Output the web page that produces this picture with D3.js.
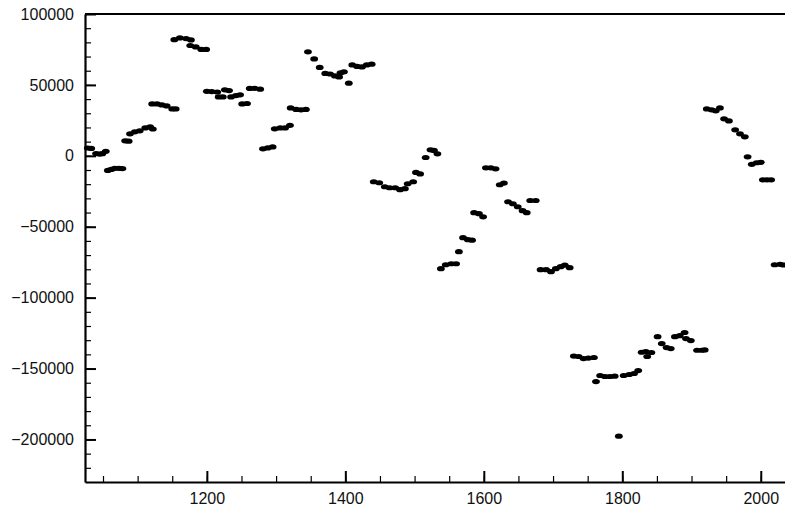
<!DOCTYPE html>
<html>
<head>
<meta charset="utf-8">
<script src="https://cdn.jsdelivr.net/npm/d3@7"></script>
<style>
  body { margin: 0; background: #fff; }
  svg { display: block; font-family: "Liberation Sans", Arial, sans-serif; }
</style>
</head>
<body>
<div class="chart"></div>
<script>
// values (year, value)
const years = [
  1028, 1033, 1040, 1045, 1049, 1054,
  1057, 1062, 1067, 1073, 1078,
  1082, 1087,
  1089, 1096, 1103, 1111, 1118, 1122,
  1121, 1128, 1135, 1142, 1150, 1155,
  1153, 1161, 1170, 1177,
  1176, 1184, 1192, 1199,
  1200, 1207, 1215, 1217, 1223, 1226, 1232,
  1235, 1242, 1248, 1251, 1258,
  1262, 1269, 1277,
  1281, 1288, 1295,
  1298, 1306, 1313, 1320,
  1321, 1329, 1336, 1343,
  1346, 1355, 1363,
  1371, 1378, 1385, 1391, 1393, 1398, 1405,
  1410, 1417, 1424, 1431, 1438,
  1441, 1449, 1457, 1464, 1472, 1479, 1486, 1490, 1498,
  1502, 1508, 1516, 1523, 1528, 1533,
  1538, 1545, 1553, 1560, 1564,
  1570, 1577, 1583, 1586, 1593, 1599,
  1603, 1610, 1617, 1623, 1629,
  1635, 1642, 1649, 1656, 1662, 1667, 1675,
  1682, 1690, 1697, 1704, 1711, 1717, 1724,
  1730, 1737, 1744, 1751, 1759,
  1762, 1768, 1775, 1782, 1789, 1795,
  1802, 1810, 1817, 1823,
  1828, 1834, 1836, 1842, 1851,
  1857, 1864, 1870, 1876, 1883, 1890, 1892, 1899,
  1908, 1915, 1919,
  1922, 1929, 1935, 1941, 1947, 1954,
  1963, 1970, 1977, 1981,
  1987, 1994, 2000, 2003, 2009, 2015,
  2020, 2028, 2033
];
const values = [
  5500, 5200, 1600, 1200, 1500, 3200,
  -10300, -9600, -8800, -8800, -9000,
  10600, 10300,
  15500, 16900, 17600, 19700, 20400, 18900,
  36600, 36600, 35900, 35200, 33100, 33100,
  81900, 83100, 82700, 81700,
  77800, 76800, 75000, 75000,
  45500, 45300, 45000, 41500, 41500, 46500, 46000,
  41500, 42500, 43000, 36600, 36900,
  47500, 47600, 47000,
  4900, 5600, 6300,
  19000, 19700, 19700, 21500,
  33800, 32700, 32400, 32700,
  73300, 68300, 62300,
  58100, 57700, 56300, 55600, 58500, 59200, 51200,
  64100, 63000, 62700, 64100, 64600,
  -18300, -19000, -21800, -22500, -22500, -23900, -23200, -19700, -18300,
  -11700, -12800, -1200, 4200, 3800, 1400,
  -79600, -76800, -76100, -76100, -67600,
  -57700, -59100, -59500, -40100, -40800, -43000,
  -8500, -8500, -9200, -20400, -19200,
  -32400, -33800, -35900, -38700, -40100, -31500, -31500,
  -80300, -80300, -81700, -79600, -78200, -77100, -78900,
  -141200, -141500, -143000, -142600, -142200,
  -159200, -154900, -155600, -155600, -155400, -197700,
  -154900, -154200, -153500, -151400,
  -138500, -138000, -141500, -138700, -127500,
  -132400, -135200, -135900, -127500, -126800, -124600, -128900, -130300,
  -137100, -137100, -136900,
  33100, 32400, 31700, 33800, 26100, 24600,
  18300, 15500, 13400, -700,
  -6000, -4900, -4600, -16900, -16900, -16900,
  -76800, -76500, -77000
];
const xTicks = [1200, 1400, 1600, 1800, 2000];
const yTicks = [100000, 50000, 0, -50000, -100000, -150000, -200000];

const W = 785, H = 512;
const margin = {top: 14, right: 0, bottom: 30, left: 85};

const svg = d3.select(".chart")
  .append("svg")
    .attr("width", W)
    .attr("height", H);

const x = d3.scaleLinear()
  .domain([1024, 2035])
  .range([margin.left, W - margin.right]);

const y = d3.scaleLinear()
  .domain([-230000, 100000])
  .range([H - margin.bottom, margin.top]);

// minor ticks first, majors drawn over them
svg.append("g")
  .attr("transform", "translate(0," + (H - margin.bottom) + ")")
  .call(d3.axisBottom(x).tickValues(d3.range(1050, 2035, 50)).tickSize(-6).tickFormat(""))
  .call(g => g.select(".domain").remove())
  .call(g => g.selectAll("line").attr("stroke-width", 1.2));

svg.append("g")
  .attr("transform", "translate(" + margin.left + ",0)")
  .call(d3.axisLeft(y).tickValues(d3.range(-220000, 100001, 10000)).tickSize(-6).tickFormat(""))
  .call(g => g.select(".domain").remove())
  .call(g => g.selectAll("line").attr("stroke-width", 1.2));

const xAxis = svg.append("g")
  .attr("transform", "translate(0," + (H - margin.bottom) + ")")
  .call(d3.axisBottom(x).tickValues(xTicks).tickSize(-11).tickSizeOuter(0).tickPadding(11).tickFormat(d3.format("d")));

const yAxis = svg.append("g")
  .attr("transform", "translate(" + margin.left + ",0)")
  .call(d3.axisLeft(y).tickValues(yTicks).tickSize(-11).tickSizeOuter(0).tickPadding(11).tickFormat(d3.format("d")));

[xAxis, yAxis].forEach(g => {
  g.select(".domain").attr("stroke-width", 2.2);
  g.selectAll(".tick line").attr("stroke-width", 2);
  g.selectAll("text").style("font-size", "16px").attr("fill", "#111");
});

// top frame line
svg.append("line")
  .attr("x1", x.range()[0]).attr("x2", x.range()[1])
  .attr("y1", y(100000)).attr("y2", y(100000))
  .attr("stroke", "#000")
  .attr("stroke-width", 2.2);

const points = years.map((d, i) => ({year: d, value: values[i]}));

svg.append("g")
  .selectAll("ellipse")
  .data(points)
  .join("ellipse")
    .attr("cx", d => x(d.year))
    .attr("cy", d => y(d.value))
    .attr("rx", 3.9)
    .attr("ry", 2.6)
    .attr("fill", "#000");
</script>
</body>
</html>
